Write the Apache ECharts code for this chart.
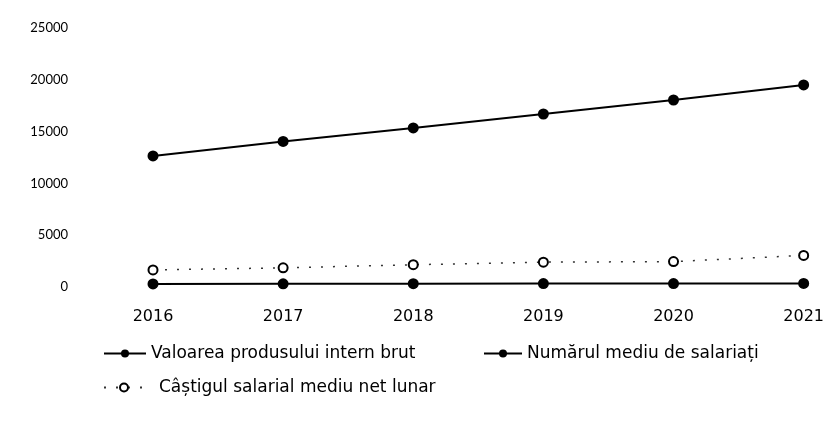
<!DOCTYPE html>
<html>
<head>
<meta charset="utf-8">
<script src="https://cdn.jsdelivr.net/npm/echarts@6/dist/echarts.min.js"></script>
<style>
    html, body { margin: 0; padding: 0; background: #fff; }
    #chart { width: 827px; height: 421px; }
</style>
</head>
<body>
<div id="chart"></div>
<script>
// date (aproximative)
const years = ['2016', '2017', '2018', '2019', '2020', '2021'];
const pib = [12650, 14050, 15350, 16700, 18050, 19500];
const salariati = [300, 310, 320, 330, 330, 340];
const castig = [1650, 1850, 2150, 2400, 2450, 3050];
const yTicks = [0, 5000, 10000, 15000, 20000, 25000];

const numeSerii = [
    'Valoarea produsului intern brut',
    'Numărul mediu de salariați',
    'Câștigul salarial mediu net lunar'
];

let chart = echarts.init(document.getElementById('chart'));

// stil comun pentru legende
let legendText = { fontSize: 17, color: '#000', fontFamily: 'DejaVu Sans' };

let option = {
    backgroundColor: '#fff',
    textStyle: { fontFamily: 'DejaVu Sans', color: '#000' },
    animation: false,
    grid: {
        left: 153,
        right: 22,
        top: 28,
        bottom: 134
    },
    legend: [{
        data: [numeSerii[0]],
        left: 98,
        top: 340,
        itemWidth: 42,
        itemHeight: 10,
        textStyle: legendText
    }, {
        data: [numeSerii[1]],
        left: 478,
        top: 340,
        itemWidth: 38,
        itemHeight: 10,
        textStyle: legendText
    }, {
        data: [numeSerii[2]],
        left: 98,
        top: 374,
        itemWidth: 40,
        itemHeight: 10,
        textStyle: Object.assign({}, legendText, { padding: [0, 0, 0, 10] })
    }],
    xAxis: {
        type: 'category',
        boundaryGap: false,
        data: years,
        axisLine: { show: false },
        axisTick: { show: false },
        axisLabel: { margin: 22, fontSize: 16, color: '#000', fontFamily: 'DejaVu Sans' }
    },
    yAxis: {
        type: 'value',
        min: yTicks[0],
        max: yTicks[yTicks.length - 1],
        interval: 5000,
        axisLine: { show: false },
        axisTick: { show: false },
        splitLine: { show: false },
        axisLabel: {
            margin: 85, fontSize: 13, color: '#000', fontFamily: 'Lato',
            formatter: function (v) { return String(v); }
        }
    },
    series: [{
        name: numeSerii[0],
        type: 'line',
        data: pib,
        symbol: 'circle',
        symbolSize: 11,
        lineStyle: { color: '#000', width: 2 },
        itemStyle: { color: '#000' }
    }, {
        name: numeSerii[1],
        type: 'line',
        data: salariati,
        symbol: 'circle',
        symbolSize: 11,
        lineStyle: { color: '#000', width: 2 },
        itemStyle: { color: '#000' }
    }, {
        name: numeSerii[2],
        type: 'line',
        data: castig,
        symbol: 'emptyCircle',
        symbolSize: 9,
        showSymbol: true,
        lineStyle: { color: '#333', width: 1.5, type: [2, 10] },
        itemStyle: { color: '#000', borderColor: '#000', borderWidth: 2 }
    }]
};

chart.setOption(option);
</script>
</body>
</html>
